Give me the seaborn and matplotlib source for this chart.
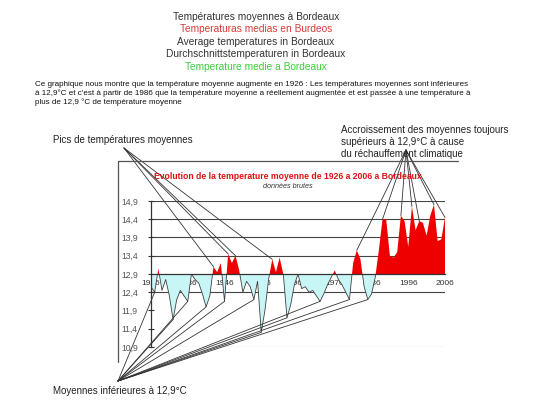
import numpy as np
import pandas as pd
import matplotlib
matplotlib.use("Agg")
import matplotlib.pyplot as plt
from matplotlib.lines import Line2D
from matplotlib.patches import Rectangle
import seaborn as sns

# ---------------- data ----------------
years = list(range(1926, 2007))
temps = [12.55, 12.4, 13.05, 12.45, 12.75, 12.3, 11.65, 12.2, 12.45, 12.3,
         12.15, 12.9, 12.75, 12.65, 12.35, 12.0, 12.3, 13.1, 12.95, 13.2,
         12.15, 13.45, 13.2, 13.4, 13.0, 12.4, 12.7, 12.55, 12.2, 12.7,
         11.3, 11.9, 12.75, 13.3, 12.95, 13.35, 12.9, 11.7, 12.05, 12.6,
         12.9, 12.5, 12.55, 12.4, 12.45, 12.3, 12.15, 12.35, 12.6, 12.8,
         13.0, 12.75, 12.6, 12.4, 12.2, 13.2, 13.55, 13.3, 12.55, 12.2,
         12.35, 12.8, 13.55, 14.4, 14.4, 13.4, 13.35, 13.5, 14.5, 14.35,
         13.65, 14.75, 14.1, 14.35, 14.3, 13.95, 14.5, 14.8, 13.8, 13.85,
         14.45]
baseline = 12.9
ytick_vals = [10.9, 11.4, 11.9, 12.4, 12.9, 13.4, 13.9, 14.4, 14.9]
ytick_labels = ["10,9", "11,4", "11,9", "12,4", "12,9", "13,4", "13,9", "14,4", "14,9"]
xtick_vals = [1926, 1936, 1946, 1956, 1966, 1976, 1986, 1996, 2006]
grid_vals = [10.9, 12.4, 13.4, 13.9, 14.4, 14.9]

peak_years = [1943, 1947, 1949, 1959]
high_years = [1982, 1989, 1994, 1997, 1999, 2003, 2006]
low_years = [1927, 1932, 1936, 1941, 1946, 1954, 1956, 1963, 1972, 1980, 1985]

title_lines = ["Températures moyennes à Bordeaux",
               "Temperaturas medias en Burdeos",
               "Average temperatures in Bordeaux",
               "Durchschnittstemperaturen in Bordeaux",
               "Temperature medie a Bordeaux"]
title_colors = ["#333333", "#d93a3a", "#333333", "#333333", "#3ccc3c"]
paragraph = ["Ce graphique nous montre que la température moyenne augmente en 1926 : Les températures moyennes sont inférieures",
             "à 12,9°C et c'est à partir de 1986 que la température moyenne a réellement augmentée et est passée à une température à",
             "plus de 12,9 °C de température moyenne"]
accr_lines = ["Accroissement des moyennes toujours",
              "supérieurs à 12,9°C à cause",
              "du réchauffement climatique"]

df = pd.DataFrame({"year": years, "temp": temps})

# ---------------- figure ----------------
sns.set_style("white")
plt.rcParams["font.family"] = ["Liberation Sans", "DejaVu Sans"]

W, H = 550, 412
fig = plt.figure(figsize=(W / 100, H / 100), dpi=100)
fig.patch.set_facecolor("white")

def fx(x):
    return x / W

def fy(y):
    return 1 - y / H

ax = fig.add_axes([fx(151), fy(347), (445 - 151) / W, (347 - 201) / H])
ax.set_facecolor("none")

for g in grid_vals:
    ax.axhline(g, color="#888888" if g == 10.9 else "#444444", lw=0.8, zorder=0)

t = np.array(temps)
y = np.array(years)
ax.fill_between(y, t, baseline, where=t >= baseline, interpolate=True,
                color="#ee0000", lw=0, zorder=1)
ax.fill_between(y, t, baseline, where=t <= baseline, interpolate=True,
                color="#c8f6f6", lw=0, zorder=1)
sns.lineplot(data=df, x="year", y="temp", ax=ax, color="#404040", lw=0.6, zorder=2)
clip = Rectangle((1926, 10.9), 80, baseline - 10.9, transform=ax.transData)
for ln in ax.get_lines():
    if ln.get_linewidth() == 0.6:
        ln.set_clip_path(clip)

ax.set_xlim(1926, 2006)
ax.set_ylim(10.9, 14.9)
ax.set_yticks(ytick_vals)
ax.set_yticklabels(ytick_labels)
ax.set_xticks(xtick_vals)
ax.set_xticklabels([str(v) for v in xtick_vals])
ax.set_xlabel("")
ax.set_ylabel("")
for s in ["top", "right"]:
    ax.spines[s].set_visible(False)
ax.spines["bottom"].set_position(("data", baseline))
ax.spines["bottom"].set_color("#333333")
ax.spines["bottom"].set_linewidth(0.9)
ax.spines["bottom"].set_zorder(3)
ax.spines["left"].set_color("#333333")
ax.spines["left"].set_linewidth(0.9)
ax.tick_params(axis="y", direction="inout", length=5, width=0.8, color="#333333",
               labelsize=6.2, labelcolor="#555555", pad=7, left=True)
ax.tick_params(axis="x", length=0, labelsize=6, labelcolor="#333333", pad=4)

# chart frame (top and left)
fig.add_artist(Line2D([fx(118), fx(458)], [fy(160.5), fy(160.5)], color="#555555", lw=0.9))
fig.add_artist(Line2D([fx(118), fx(118)], [fy(160.5), fy(362)], color="#555555", lw=0.9))

# chart title
fig.text(fx(288), fy(177), "Evolution de la temperature moyenne de 1926 a 2006 a Bordeaux",
         color="#dd1111", fontsize=6.2, fontweight="bold", ha="center", va="center")
fig.text(fx(288), fy(186), "données brutes", color="#333333", fontsize=5.2,
         style="italic", ha="center", va="center")

# header
for i, (s, c) in enumerate(zip(title_lines, title_colors)):
    fig.text(fx(256), fy(17 + i * 12.4), s, color=c, fontsize=7.3, ha="center", va="center")
for i, s in enumerate(paragraph):
    fig.text(fx(35), fy(84.7 + i * 8.7), s, color="#111111", fontsize=5.8, ha="left", va="center")

# annotations
fig.text(fx(53), fy(139.6), "Pics de températures moyennes", fontsize=7, color="#222222",
         ha="left", va="center")
for i, s in enumerate(accr_lines):
    fig.text(fx(341), fy(130 + i * 11.8), s, fontsize=7, color="#222222", ha="left", va="center")
fig.text(fx(53), fy(391), "Moyennes inférieures à 12,9°C", fontsize=7, color="#222222",
         ha="left", va="center")

tmap = dict(zip(years, temps))
line_kw = dict(arrowstyle="-", color="#333333", lw=0.6, shrinkA=0, shrinkB=0)
for yr in peak_years:
    ax.annotate("", xy=(yr, tmap[yr]), xycoords="data", xytext=(124, H - 148),
                textcoords="figure pixels", arrowprops=line_kw, annotation_clip=False)
for yr in high_years:
    ax.annotate("", xy=(yr, tmap[yr]), xycoords="data", xytext=(406, H - 150),
                textcoords="figure pixels", arrowprops=line_kw, annotation_clip=False)
for yr in low_years:
    ax.annotate("", xy=(yr, tmap[yr]), xycoords="data", xytext=(118, H - 381),
                textcoords="figure pixels", arrowprops=line_kw, annotation_clip=False)

fig.savefig("out.png", dpi=100, facecolor="white")
